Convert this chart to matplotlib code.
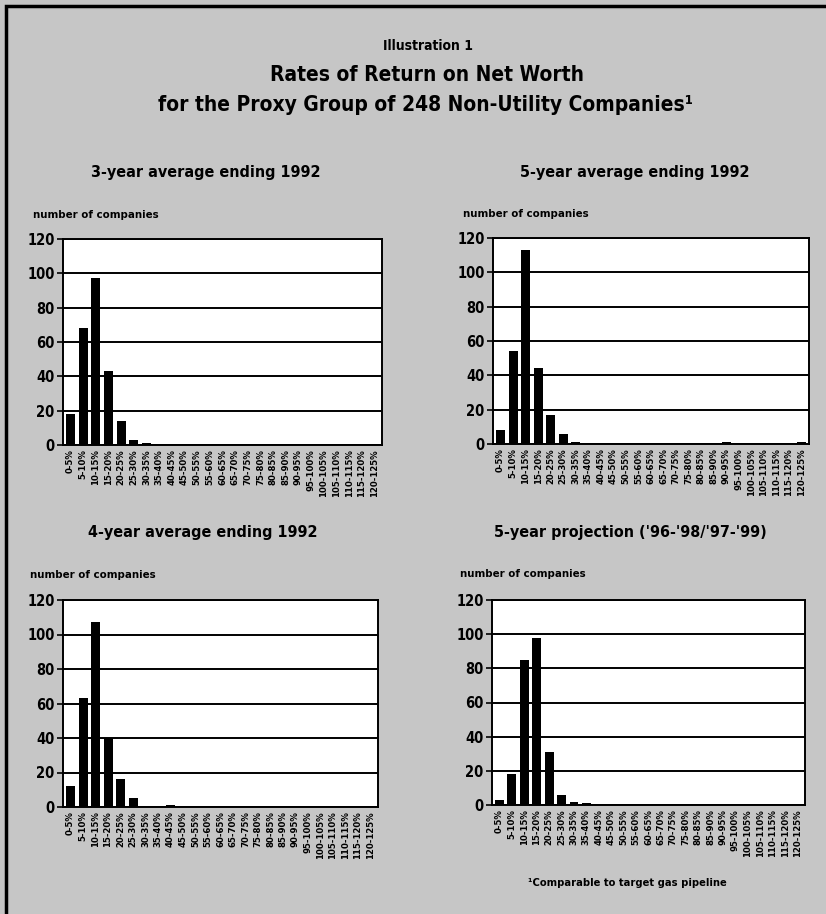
import matplotlib.pyplot as plt
from matplotlib import font_manager
from matplotlib.patches import Rectangle

# rate-of-return bins
bins = ["0-5%", "5-10%", "10-15%", "15-20%", "20-25%", "25-30%", "30-35%",
        "35-40%", "40-45%", "45-50%", "50-55%", "55-60%", "60-65%", "65-70%",
        "70-75%", "75-80%", "80-85%", "85-90%", "90-95%", "95-100%",
        "100-105%", "105-110%", "110-115%", "115-120%", "120-125%"]

# number of companies per bin
avg3_1992 = [18, 68, 97, 43, 14, 3, 1, 0, 0, 0, 0, 0, 0, 0, 0, 0, 0, 0, 0, 0, 0, 0, 0, 0, 0]
avg5_1992 = [8, 54, 113, 44, 17, 6, 1, 0, 0, 0, 0, 0, 0, 0, 0, 0, 0, 0, 1, 0, 0, 0, 0, 0, 1]
avg4_1992 = [12, 63, 107, 40, 16, 5, 0, 0, 1, 0, 0, 0, 0, 0, 0, 0, 0, 0, 0, 0, 0, 0, 0, 0, 0]
proj5 = [3, 18, 85, 98, 31, 6, 2, 1, 0, 0, 0, 0, 0, 0, 0, 0, 0, 0, 0, 0, 0, 0, 0, 0, 0]

panel_titles = ["3-year average ending 1992", "5-year average ending 1992",
                "4-year average ending 1992", "5-year projection ('96-'98/'97-'99)"]
yticks = [0, 20, 40, 60, 80, 100, 120]

BG = "#c6c6c6"
W, H = 826, 914


def pick_font():
    # look for a narrow / condensed bold face, the chart uses one
    best = None
    for f in font_manager.fontManager.ttflist:
        narrow = ("Narrow" in f.name or "Condensed" in f.name
                  or "condensed" in str(f.stretch))
        if not narrow:
            continue
        w = f.weight if isinstance(f.weight, int) else 400
        if best is None or abs(w - 700) < abs(best[0] - 700):
            best = (w, f.fname)
    return best[1] if best else None


fname = pick_font()
if fname:
    def fp(size):
        return font_manager.FontProperties(fname=fname, size=size)
    scale = 1.0
else:
    def fp(size):
        return font_manager.FontProperties(family="DejaVu Sans",
                                           weight="bold", size=size)
    scale = 0.85


def box(l, t, r, b):
    # pixel box -> figure fraction [left, bottom, width, height]
    return [l / W, 1 - b / H, (r - l) / W, (b - t) / H]


def panel(fig, rect, values, title, title_x, title_y, label_x, label_y):
    ax = fig.add_axes(box(*rect))
    x = range(len(bins))
    ax.bar(x, values, width=0.72, color="black", zorder=3)
    ax.set_xlim(-0.6, len(bins) - 0.4)
    ax.set_ylim(0, 120)
    ax.set_yticks(yticks)
    ax.set_yticklabels([str(v) for v in yticks], fontproperties=fp(10.5 * scale))
    ax.set_xticks(list(x))
    ax.set_xticklabels(bins, rotation=90, fontproperties=fp(6.8 * scale))
    ax.tick_params(axis="x", length=0, pad=3)
    ax.tick_params(axis="y", length=4, width=1.2, pad=2)
    ax.yaxis.grid(True, color="black", linewidth=1.4, zorder=1)
    ax.set_axisbelow(True)
    for s in ax.spines.values():
        s.set_linewidth(1.4)
    ax.set_facecolor("white")
    fig.text(title_x / W, 1 - title_y / H, title, fontproperties=fp(11.5 * scale),
             ha="center", va="center")
    fig.text(label_x / W, 1 - label_y / H, "number of companies",
             fontproperties=fp(8.2 * scale), ha="left", va="center")
    return ax


fig = plt.figure(figsize=(W / 100, H / 100), dpi=100)
fig.patch.set_facecolor(BG)

# outer frame
fig.add_artist(Rectangle((6 / W, -0.01), 1.2, 1 - 6 / H + 0.01,
                         transform=fig.transFigure, fill=False,
                         edgecolor="black", linewidth=2.5))

fig.text(428 / W, 1 - 46 / H, "Illustration 1", fontproperties=fp(10 * scale),
         ha="center", va="center")
fig.text(427 / W, 1 - 75 / H, "Rates of Return on Net Worth",
         fontproperties=fp(15 * scale), ha="center", va="center")
fig.text(425 / W, 1 - 105 / H,
         "for the Proxy Group of 248 Non-Utility Companies\u00b9",
         fontproperties=fp(15 * scale), ha="center", va="center")

panel(fig, (63, 239, 382, 445), avg3_1992, panel_titles[0], 206, 172, 33, 215)
panel(fig, (493, 238, 809, 444), avg5_1992, panel_titles[1], 635, 172, 463, 214)
panel(fig, (63, 600, 378, 807), avg4_1992, panel_titles[2], 203, 532, 30, 575)
panel(fig, (492, 600, 805, 805), proj5, panel_titles[3], 630, 532, 460, 574)

fig.text(528 / W, 1 - 883 / H, "\u00b9Comparable to target gas pipeline",
         fontproperties=fp(8 * scale), ha="left", va="center")

fig.savefig("out.png", dpi=100, facecolor=BG)
